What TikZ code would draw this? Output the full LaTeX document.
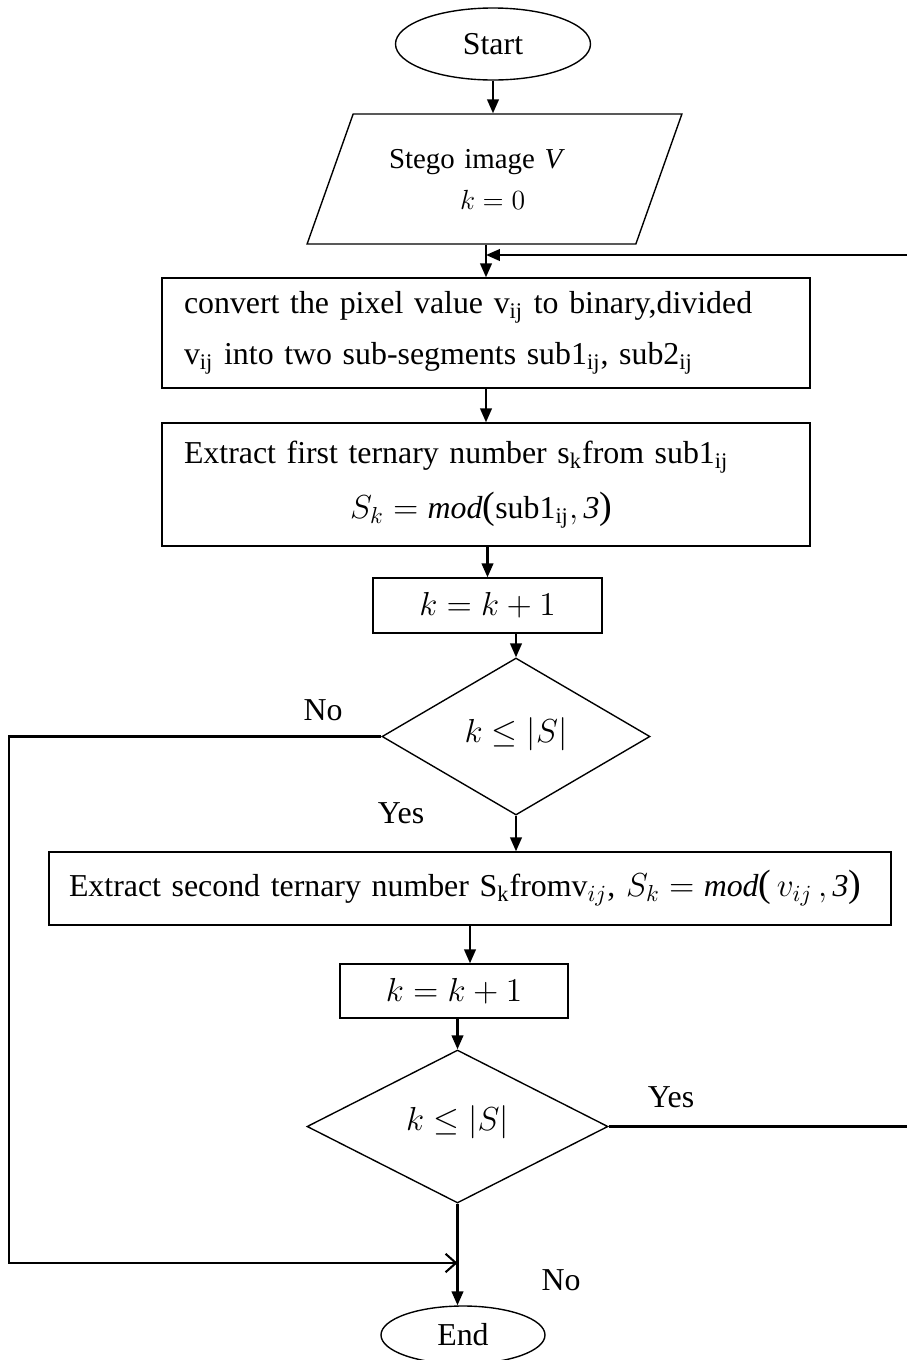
\documentclass[tikz,border=0pt]{standalone}
\usepackage{amsmath}
\usepackage{fontspec}
\setmainfont{Liberation Serif}
\usetikzlibrary{calc, arrows.meta, shapes.geometric}
\newlength{\upx}\setlength{\upx}{0.433pt}
% 稍大的圆括号
\newcommand{\lpar}{\text{\fontsize{16.5}{16}\selectfont(}}
\newcommand{\rpar}{\text{\fontsize{16.5}{16}\selectfont)}}

\begin{document}
\begin{tikzpicture}[x=\upx, y=-\upx,
  font=\fontsize{13.8}{16}\selectfont,
  box/.style={draw, line width=0.6pt, rectangle, inner sep=0pt},
  term/.style={draw, line width=0.6pt, ellipse, inner sep=0pt},
  dia/.style={draw, line width=0.6pt, diamond, inner sep=0pt},
  arr/.style={line width=0.9pt, -{Triangle[length=6pt, width=5pt]}},
  barb/.style={line width=0.9pt, -{Straight Barb[length=4.5pt, width=8pt]}}]

% 画布大小
\useasboundingbox (0,0) rectangle (907,1360);

% 开始
\node[term, minimum width=195*\upx, minimum height=72*\upx] (start) at (493,44) {Start};

% 输入：隐写图像
\node[draw, line width=0.6pt, trapezium, trapezium left angle=64, trapezium right angle=116,
  trapezium stretches=true, minimum width=375*\upx, minimum height=130*\upx,
  text width=211*\upx, align=left, font=\fontsize{12.5}{17.8}\selectfont] (input) at (494.5,179)
  {Stego image \textit{V}\\\hspace*{71\upx}$k = 0$};

% 像素转二进制
\node[box, minimum width=648*\upx, minimum height=110*\upx, text width=604*\upx, align=left,
  font=\fontsize{13.8}{22}\selectfont] (conv) at (486,333)
  {convert the pixel value v\textsubscript{ij} to binary,divided\\
   v\textsubscript{ij} into two sub-segments sub1\textsubscript{ij}, sub2\textsubscript{ij}};

% 第一个三进制数
\node[box, minimum width=648*\upx, minimum height=123*\upx, text width=604*\upx, align=left,
  font=\fontsize{13.8}{24}\selectfont] (first) at (486,484.5)
  {Extract first ternary number s\textsubscript{k}from sub1\textsubscript{ij}\\
   \hspace*{166\upx}$S_k = \mathit{mod}\lpar\text{sub1}_{\text{ij}}\mathit{,3}\rpar$};

% k 加一
\node[box, minimum width=229*\upx, minimum height=55*\upx] (inc1) at (487.5,605.5) {$k = k + 1$};

% 判断
\node[dia, minimum width=268*\upx, minimum height=157*\upx] (d1) at (516,736.5) {\raisebox{12\upx}{$k \leq |S|$}};

% 第二个三进制数
\node[box, minimum width=842*\upx, minimum height=73*\upx, text width=802*\upx, align=left] (second) at (470,888.5)
  {Extract second ternary number S\textsubscript{k}fromv$_{ij}$, $S_k = \mathit{mod}\lpar\, v_{ij}\,\mathit{,3}\rpar$};

% k 加一
\node[box, minimum width=228*\upx, minimum height=54*\upx] (inc2) at (454,991) {$k = k + 1$};

% 判断
\node[dia, minimum width=301*\upx, minimum height=153*\upx] (d2) at (457.5,1126.5) {\raisebox{16\upx}{$k \leq |S|$}};

% 结束
\node[term, minimum width=164*\upx, minimum height=58*\upx] (stop) at (463,1335) {End};

% 辅助点
\coordinate (loop) at (486,255);
\coordinate (rgt) at (912,0);
\coordinate (lft) at (9,0);
\coordinate (merge) at (457.5,1263);

% 主流程箭头
\draw[arr] (start.south) -- (start.south |- input.north);
\draw[arr] (conv.north |- input.south) -- (conv.north);
\draw[arr] (conv.south) -- (first.north);
\draw[arr] (first.south -| inc1.north) -- (inc1.north);
\draw[arr] (inc1.south -| d1.north) -- (d1.north);
\draw[arr] (d1.south) -- (d1.south |- second.north);
\draw[arr] (second.south) -- (second.south |- inc2.north);
\draw[arr] (inc2.south -| d2.north) -- (d2.north);
\draw[arr] (d2.south) -- (d2.south |- stop.north);

% 回路
\draw[arr] (d2.east) -- (d2.east -| rgt) |- (loop);
\draw[barb] (d1.west) -- (d1.west -| lft) |- (merge);

% 标注
\node (no1) at (323,710) {No};
\node (yes1) at (401,813) {Yes};
\node (yes2) at (671,1097) {Yes};
\node (no2) at (561,1280) {No};

\end{tikzpicture}
\end{document}
